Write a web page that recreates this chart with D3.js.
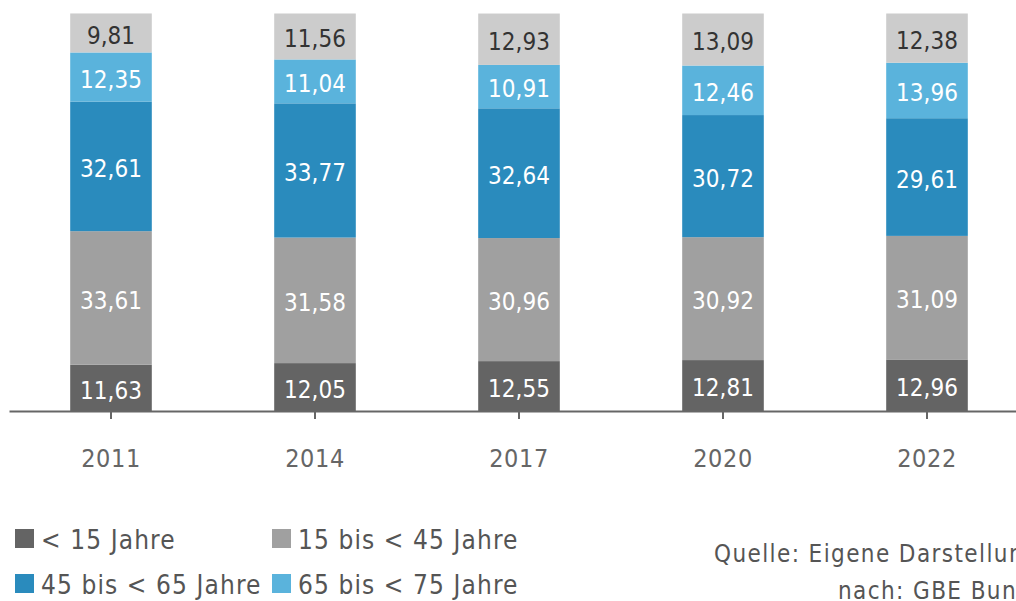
<!DOCTYPE html>
<html>
<head>
<meta charset="utf-8">
<script src="https://cdn.jsdelivr.net/npm/d3@7"></script>
<style>
  body { margin: 0; background: #fff; }
  svg { display: block; font-family: "DejaVu Sans Condensed", "DejaVu Sans", sans-serif; }
</style>
</head>
<body>
<svg id="chart" width="1016" height="601"></svg>
<script>
// Altersverteilung in Prozent, je Jahr
var years = ["2011", "2014", "2017", "2020", "2022"];
var groups = ["< 15 Jahre", "15 bis < 45 Jahre", "45 bis < 65 Jahre", "65 bis < 75 Jahre", "75 Jahre und älter"];
var colors = ["#646464", "#a0a0a0", "#2a8bbd", "#5ab3dc", "#cccccc"];
var labelColors = ["#fff", "#fff", "#fff", "#fff", "#333"];

var under15   = [11.63, 12.05, 12.55, 12.81, 12.96];
var from15    = [33.61, 31.58, 30.96, 30.92, 31.09];
var from45    = [32.61, 33.77, 32.64, 30.72, 29.61];
var from65    = [12.35, 11.04, 10.91, 12.46, 13.96];
var over75    = [9.81, 11.56, 12.93, 13.09, 12.38];

var series = [under15, from15, from45, from65, over75];
var sourceLines = ["Quelle: Eigene Darstellung", "nach: GBE Bund"];

var w = 1016, h = 601;
var svg = d3.select('#chart');

var x = d3.scaleBand()
  .domain(years)
  .range([9, 1029])
  .paddingInner(0.6)
  .paddingOuter(0.3);

var y = d3.scaleLinear()
  .domain([0, 100])
  .range([411, 13.5]);

var fmt = function(v) { return d3.format(".2f")(v).replace('.', ','); };

// stack the rows per year
var rows = years.map(function(yr, i) {
  var o = { year: yr };
  groups.forEach(function(g, k) { o[g] = series[k][i]; });
  return o;
});
var stacked = d3.stack().keys(groups)(rows);

var layer = svg.selectAll('g.layer')
  .data(stacked)
  .enter().append('g')
  .attr('class', 'layer')
  .attr('fill', function(d, k) { return colors[k]; });

layer.selectAll('rect')
  .data(function(d) { return d; })
  .enter().append('rect')
  .attr('x', function(d) { return x(d.data.year); })
  .attr('width', x.bandwidth())
  .attr('y', function(d) { return y(d[1]); })
  .attr('height', function(d) { return y(d[0]) - y(d[1]); });

layer.selectAll('text')
  .data(function(d, k) { return d.map(function(p) { p.k = k; return p; }); })
  .enter().append('text')
  .attr('x', function(d) { return x(d.data.year) + x.bandwidth() / 2; })
  .attr('y', function(d) { return (y(d[0]) + y(d[1])) / 2; })
  .attr('dy', '0.45em')
  .attr('text-anchor', 'middle')
  .attr('font-size', 24)
  .attr('fill', function(d) { return labelColors[d.k]; })
  .text(function(d) { return fmt(d[1] - d[0]); });

// x axis
var axis = svg.append('g')
  .attr('transform', 'translate(0,' + y(0) + ')')
  .call(d3.axisBottom(x).tickSize(8).tickPadding(30).tickSizeOuter(0));
axis.select('.domain').attr('stroke', '#666').attr('stroke-width', 2);
axis.selectAll('.tick line').attr('stroke', '#666').attr('stroke-width', 2);
axis.selectAll('.tick text')
  .attr('font-size', 25)
  .attr('letter-spacing', 0.6)
  .attr('fill', '#666')
  .attr('font-family', '"DejaVu Sans Condensed", sans-serif');

// legend (first four groups visible)
var legendPos = [[15, 540], [272, 540], [15, 585], [272, 585]];
var legend = svg.selectAll('g.legend')
  .data(groups.slice(0, 4))
  .enter().append('g')
  .attr('class', 'legend')
  .attr('transform', function(d, i) { return 'translate(' + legendPos[i] + ')'; });
legend.append('rect')
  .attr('x', 0).attr('y', -11)
  .attr('width', 19).attr('height', 19)
  .attr('fill', function(d, i) { return colors[i]; });
legend.append('text')
  .attr('x', 26)
  .attr('dy', '0.36em')
  .attr('font-size', 26)
  .attr('letter-spacing', 1.1)
  .attr('fill', '#555')
  .text(function(d) { return d; });

// source note (runs past the right edge, as in the original)
svg.append('g').selectAll('text')
  .data(sourceLines)
  .enter().append('text')
  .attr('x', function(d, i) { return i === 0 ? 714 : 838; })
  .attr('y', function(d, i) { return 562 + i * 37; })
  .attr('font-size', 24)
  .attr('letter-spacing', 1.4)
  .attr('fill', '#555')
  .text(function(d) { return d; });
</script>
</body>
</html>
